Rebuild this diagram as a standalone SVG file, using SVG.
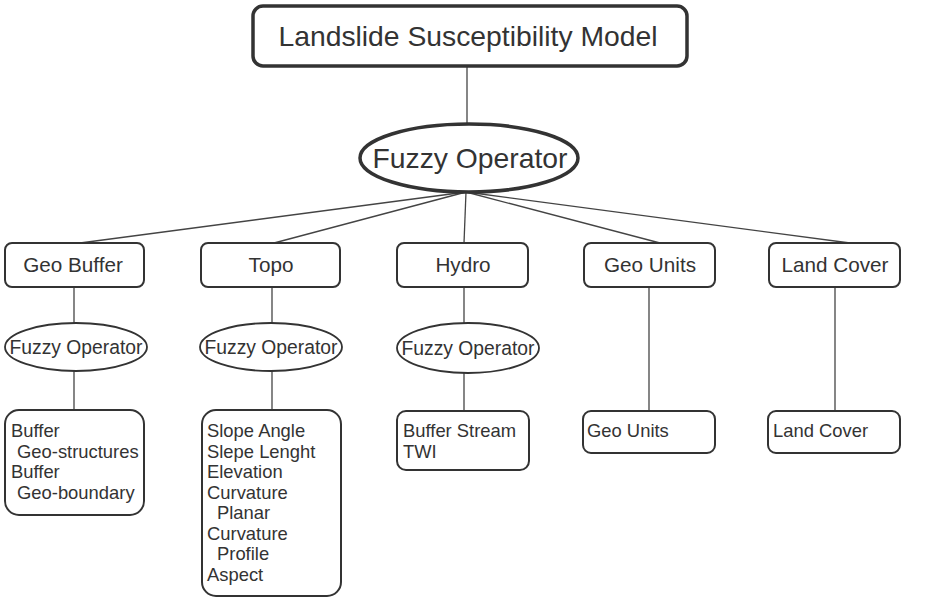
<svg xmlns="http://www.w3.org/2000/svg" width="929" height="598" viewBox="0 0 929 598">
  <style>
    text { font-family: "Liberation Sans", Arial, sans-serif; fill: #333; }
    .box { fill: #fff; stroke: #333; stroke-width: 2; }
    .root { fill: #fff; stroke: #333; stroke-width: 3.5; }
    .op { fill: #fff; stroke: #333; stroke-width: 1.8; }
    .op-main { fill: #fff; stroke: #333; stroke-width: 3.5; }
    .link { stroke: #444; stroke-width: 1.3; fill: none; }
    .t28 { font-size: 28.3px; text-anchor: middle; }
    .t20 { font-size: 20.7px; text-anchor: middle; }
    .t19 { font-size: 19.3px; text-anchor: middle; }
    .t18 { font-size: 18.4px; }
  </style>
  <rect width="929" height="598" fill="#fff"/>

  <!-- connectors -->
  <g id="connectors">
    <line class="link" x1="467" y1="66" x2="467" y2="124"/>
    <line class="link" x1="466" y1="192" x2="80" y2="243"/>
    <line class="link" x1="466" y1="192" x2="274" y2="243"/>
    <line class="link" x1="466" y1="192" x2="464" y2="243"/>
    <line class="link" x1="466" y1="192" x2="660" y2="243"/>
    <line class="link" x1="466" y1="192" x2="850" y2="243"/>
    <line class="link" x1="74" y1="287" x2="74" y2="323"/>
    <line class="link" x1="272" y1="287" x2="272" y2="323"/>
    <line class="link" x1="464" y1="287" x2="464" y2="323"/>
    <line class="link" x1="74" y1="371" x2="74" y2="410"/>
    <line class="link" x1="272" y1="371" x2="272" y2="410"/>
    <line class="link" x1="464" y1="373" x2="464" y2="411"/>
    <line class="link" x1="649" y1="287" x2="649" y2="411"/>
    <line class="link" x1="835" y1="287" x2="835" y2="411"/>
  </g>

  <!-- top level -->
  <g id="model">
    <rect class="root" x="253" y="6" width="434" height="60" rx="10"/>
    <text class="t28" x="468" y="46">Landslide Susceptibility Model</text>
  </g>
  <g id="fuzzy-main">
    <ellipse class="op-main" cx="469" cy="158" rx="109" ry="34"/>
    <text class="t28" x="470" y="168">Fuzzy Operator</text>
  </g>

  <!-- factor groups -->
  <g id="geo-buffer">
    <rect class="box" x="5" y="243" width="139" height="44" rx="7"/>
    <text class="t20" x="73" y="272">Geo Buffer</text>
  </g>
  <g id="topo">
    <rect class="box" x="201" y="243" width="139" height="44" rx="7"/>
    <text class="t20" x="271" y="272">Topo</text>
  </g>
  <g id="hydro">
    <rect class="box" x="397" y="243" width="131" height="44" rx="7"/>
    <text class="t20" x="463" y="272">Hydro</text>
  </g>
  <g id="geo-units">
    <rect class="box" x="584" y="243" width="131" height="44" rx="7"/>
    <text class="t20" x="650" y="272">Geo Units</text>
  </g>
  <g id="land-cover">
    <rect class="box" x="769" y="243" width="131" height="44" rx="7"/>
    <text class="t20" x="835" y="272">Land Cover</text>
  </g>

  <!-- group operators -->
  <g id="fuzzy-geo-buffer">
    <ellipse class="op" cx="76" cy="347" rx="71" ry="24"/>
    <text class="t19" x="76" y="354">Fuzzy Operator</text>
  </g>
  <g id="fuzzy-topo">
    <ellipse class="op" cx="271" cy="347" rx="71" ry="24"/>
    <text class="t19" x="271" y="354">Fuzzy Operator</text>
  </g>
  <g id="fuzzy-hydro">
    <ellipse class="op" cx="468" cy="348" rx="71" ry="25"/>
    <text class="t19" x="468" y="355">Fuzzy Operator</text>
  </g>

  <!-- input layers -->
  <g id="layers-geo-buffer">
    <rect class="box" x="5" y="410" width="139" height="105" rx="14"/>
    <text class="t18" x="11" y="437">Buffer</text>
    <text class="t18" x="17" y="457.5">Geo-structures</text>
    <text class="t18" x="11" y="478">Buffer</text>
    <text class="t18" x="17" y="498.5">Geo-boundary</text>
  </g>
  <g id="layers-topo">
    <rect class="box" x="202" y="410" width="139" height="186" rx="14"/>
    <text class="t18" x="207" y="437">Slope Angle</text>
    <text class="t18" x="207" y="457.5">Slepe Lenght</text>
    <text class="t18" x="207" y="478">Elevation</text>
    <text class="t18" x="207" y="498.5">Curvature</text>
    <text class="t18" x="217" y="519">Planar</text>
    <text class="t18" x="207" y="539.5">Curvature</text>
    <text class="t18" x="217" y="560">Profile</text>
    <text class="t18" x="207" y="580.5">Aspect</text>
  </g>
  <g id="layers-hydro">
    <rect class="box" x="397" y="411" width="132" height="59" rx="9"/>
    <text class="t18" x="403" y="437">Buffer Stream</text>
    <text class="t18" x="403" y="458">TWI</text>
  </g>
  <g id="layers-geo-units">
    <rect class="box" x="583" y="411" width="132" height="42" rx="8"/>
    <text class="t18" x="587" y="437">Geo Units</text>
  </g>
  <g id="layers-land-cover">
    <rect class="box" x="768" y="411" width="132" height="42" rx="8"/>
    <text class="t18" x="773" y="437">Land Cover</text>
  </g>
</svg>
